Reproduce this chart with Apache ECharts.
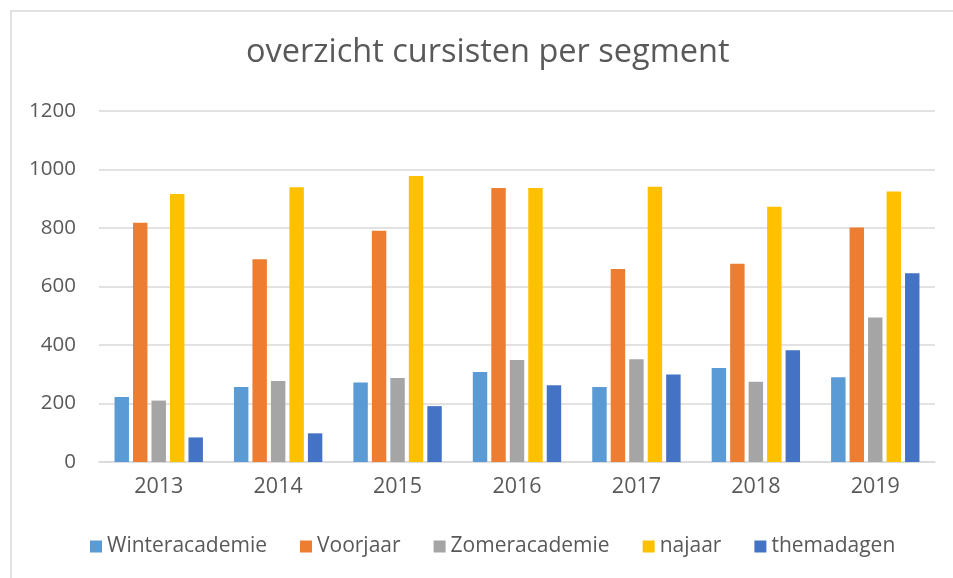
<!DOCTYPE html>
<html><head><meta charset="utf-8">
<script src="https://cdn.jsdelivr.net/npm/echarts@6/dist/echarts.min.js"></script>
<style>html,body{margin:0;padding:0;background:#fff}#c{width:953px;height:578px}</style>
</head><body><div id="c"></div>
<script>
const categories = ['2013','2014','2015','2016','2017','2018','2019'];
const winteracademie = [222, 256, 272, 308, 256, 321, 290];
const voorjaar = [818, 693, 791, 937, 660, 678, 802];
const zomeracademie = [210, 277, 287, 349, 351, 274, 494];
const najaar = [916, 939, 978, 937, 941, 873, 925];
const themadagen = [84, 98, 191, 262, 299, 382, 645];
const seriesNames = ['Winteracademie','Voorjaar','Zomeracademie','najaar','themadagen'];
const seriesData = [winteracademie, voorjaar, zomeracademie, najaar, themadagen];
const colors = ['#5B9BD5','#ED7D31','#A5A5A5','#FFC000','#4472C4'];
const yTicks = [0, 200, 400, 600, 800, 1000, 1200];

const font = "'Open Sans', 'Liberation Sans', sans-serif";
const chart = echarts.init(document.getElementById('c'));
chart.setOption({
  animation: false,
  color: colors,
  title: {
    text: 'overzicht cursisten per segment',
    left: 241, top: 31,
    textStyle: {fontFamily: font, fontSize: 32.5, fontWeight: 'normal', color: '#595959'}
  },
  graphic: [{
    type: 'rect', shape: {x: 11, y: 11, width: 960, height: 600},
    style: {fill: 'none', stroke: '#d9d9d9', lineWidth: 1.5}, silent: true, z: -1
  }],
  legend: {
    data: seriesNames, bottom: 16, left: 85,
    itemWidth: 12, itemHeight: 12, itemGap: 33,
    icon: 'rect',
    textStyle: {fontFamily: font, fontSize: 21, color: '#595959'}
  },
  grid: {left: 99, right: 18, top: 111, bottom: 116},
  xAxis: {
    type: 'category', data: categories,
    axisLine: {lineStyle: {color: '#d9d9d9', width: 1.5}},
    axisTick: {show: false},
    axisLabel: {fontFamily: font, fontSize: 21.5, color: '#595959', margin: 14}
  },
  yAxis: {
    type: 'value', min: yTicks[0], max: yTicks[yTicks.length-1], interval: 200,
    axisLine: {show: false}, axisTick: {show: false},
    splitLine: {lineStyle: {color: '#d9d9d9', width: 1.5}},
    axisLabel: {fontFamily: font, fontSize: 20.5, color: '#595959', margin: 23,
      formatter: v => String(v)}
  },
  series: seriesNames.map((n, i) => ({
    name: n, type: 'bar', data: seriesData[i],
    barGap: '28%', barCategoryGap: '26%'
  }))
});
</script></body></html>
